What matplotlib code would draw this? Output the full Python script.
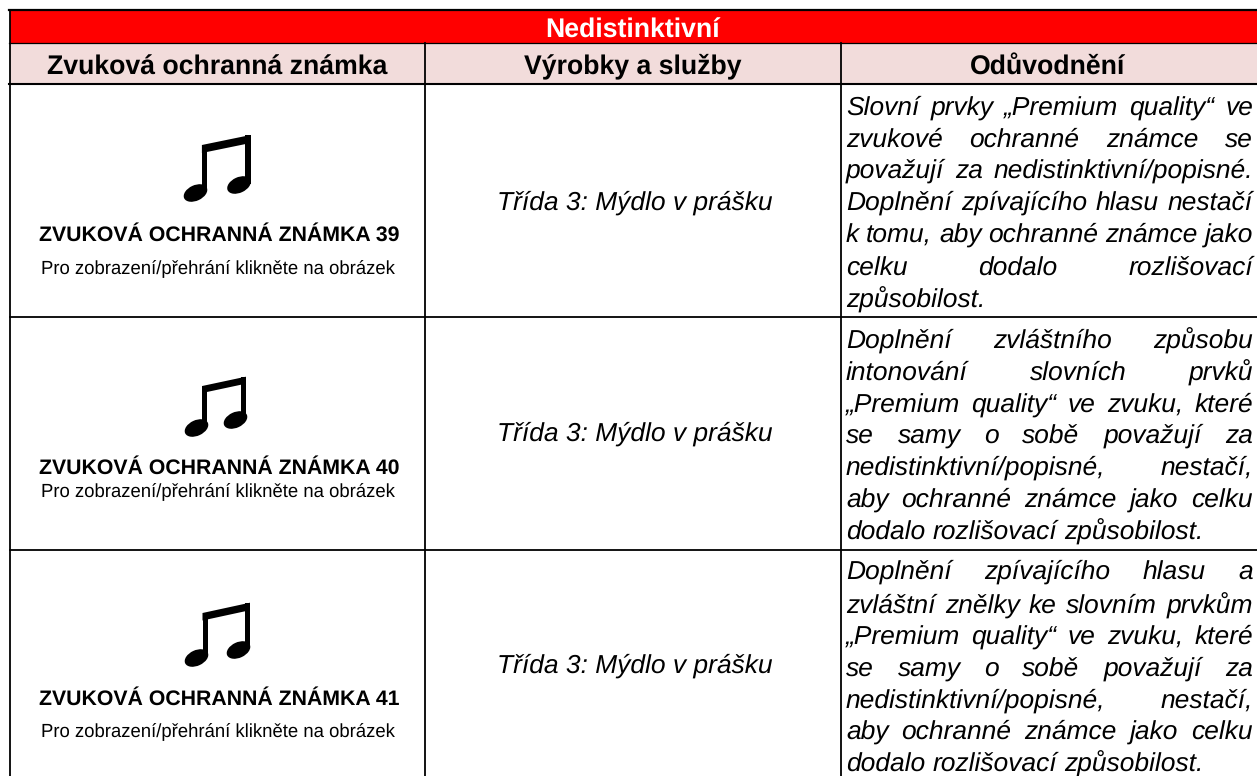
import matplotlib
matplotlib.use("Agg")
import matplotlib.pyplot as plt
from matplotlib.patches import Ellipse, Polygon, Rectangle

plt.rcParams['font.family'] = ['Liberation Sans', 'DejaVu Sans']
plt.rcParams['text.hinting'] = 'no_hinting'

# Table content
title = "Nedistinktivní"
headers = ["Zvuková ochranná známka", "Výrobky a služby", "Odůvodnění"]
mark_names = ["ZVUKOVÁ OCHRANNÁ ZNÁMKA 39", "ZVUKOVÁ OCHRANNÁ ZNÁMKA 40", "ZVUKOVÁ OCHRANNÁ ZNÁMKA 41"]
click_hint = "Pro zobrazení/přehrání klikněte na obrázek"
goods = "Třída 3: Mýdlo v prášku"
reasons = [
    ["Slovní prvky „Premium quality“ ve", "zvukové ochranné známce se",
     "považují za nedistinktivní/popisné.", "Doplnění zpívajícího hlasu nestačí",
     "k tomu, aby ochranné známce jako", "celku dodalo rozlišovací", "způsobilost."],
    ["Doplnění zvláštního způsobu", "intonování slovních prvků",
     "„Premium quality“ ve zvuku, které", "se samy o sobě považují za",
     "nedistinktivní/popisné, nestačí,", "aby ochranné známce jako celku",
     "dodalo rozlišovací způsobilost."],
    ["Doplnění zpívajícího hlasu a", "zvláštní znělky ke slovním prvkům",
     "„Premium quality“ ve zvuku, které", "se samy o sobě považují za",
     "nedistinktivní/popisné, nestačí,", "aby ochranné známce jako celku",
     "dodalo rozlišovací způsobilost."],
]

# Layout in image pixels
col_lines = [10, 425, 841]
col_centres = [217, 633, 1048]
row_lines = [317, 550]
name_base = [241, 474, 705]
hint_base = [274, 497, 737]
goods_base = [210, 441, 673]
reason_base = [[115, 147, 178, 210, 242, 275, 307],
               [348, 380, 412, 443, 475, 507, 539],
               [579, 613, 644, 676, 708, 739, 771]]
# left head x,y  right head x,y  left stem x, right stem x, left top y, right top y, stem width, beam height
notes = [(195.5, 193, 239, 185, 204.5, 248, 145, 135, 5.2, 8),
         (196.5, 428, 235.5, 420, 204.5, 243.5, 386, 376.7, 4.6, 7),
         (196.5, 658, 238.5, 650, 205, 247.5, 613, 602.7, 5.0, 7.5)]

fig = plt.figure(figsize=(12.57, 7.76), dpi=100)
ax = fig.add_axes([0, 0, 1, 1])
ax.set_xlim(0, 1257)
ax.set_ylim(776, 0)
ax.axis("off")
renderer = fig.canvas.get_renderer()

# Header fills
ax.add_patch(Rectangle((10, 10), 1247, 33, fc="#FF0000", ec="none"))
ax.add_patch(Rectangle((10, 43), 1247, 40, fc="#F2DCDB", ec="none"))

# Grid lines
ax.plot([9, 1257], [10, 10], color="black", lw=1.6)
ax.plot([9, 1257], [43.3, 43.3], color="black", lw=0.9)
ax.plot([9, 1257], [83.5, 83.5], color="black", lw=1.5)
for y in row_lines:
    ax.plot([10, 1257], [y, y], color="black", lw=1.3)
for x in col_lines:
    ax.plot([x, x], [43 if x != 10 else 10, 776], color="black", lw=1.3)


def put_text(x, y, s, **kw):
    # Agg places the bitmap by its bottom edge, so nudge y to keep every baseline on one row
    t = ax.text(x, y, s, va="baseline", **kw)
    _, h, d = renderer.get_text_width_height_descent(s, t.get_fontproperties(), False)
    t.set_y(y + int(h) - int(h - d) - d)
    return t


put_text(633, 37, title, color="white", fontsize=19.15, fontweight="bold", ha="center")
for x, h in zip(col_centres, headers):
    put_text(x, 74, h, color="black", fontsize=19.15, fontweight="bold", ha="center")


def draw_note(lx, ly, rx, ry, lstem, rstem, ltop, rtop, sw, bh):
    # Two heads, two stems and a slanted beam
    for cx, cy in [(lx, ly), (rx, ry)]:
        ax.add_patch(Ellipse((cx, cy), 25, 15.5, angle=-25, fc="black", ec="none"))
    ax.add_patch(Rectangle((lstem - sw / 2, ltop), sw, ly - ltop - 1, fc="black", ec="none"))
    ax.add_patch(Rectangle((rstem - sw / 2, rtop), sw, ry - rtop - 1, fc="black", ec="none"))
    ax.add_patch(Polygon([(lstem - sw / 2, ltop), (rstem + sw / 2, rtop),
                          (rstem + sw / 2, rtop + bh), (lstem - sw / 2, ltop + bh)],
                         fc="black", ec="none"))


def justified(line, y, left, right, stretch):
    # Place words one by one so both edges of the cell are met
    words = line.split(" ")
    items = [put_text(0, y, w, fontsize=19, style="italic", ha="left") for w in words]
    widths = [t.get_window_extent(renderer).width for t in items]
    space = (right - left - sum(widths)) / (len(words) - 1) if stretch else 7.3
    x = left
    for t, w in zip(items, widths):
        t.set_x(x)
        x += w + space


for i in range(3):
    draw_note(*notes[i])
    put_text(219, name_base[i], mark_names[i], fontsize=15.35, fontweight="bold", ha="center")
    put_text(217.5, hint_base[i], click_hint, fontsize=13.33, ha="center")
    put_text(634.5, goods_base[i], goods, fontsize=19, style="italic", ha="center")
    for j, line in enumerate(reasons[i]):
        justified(line, reason_base[i][j], 846, 1253, j < 6)

fig.savefig("out.png", dpi=100)
